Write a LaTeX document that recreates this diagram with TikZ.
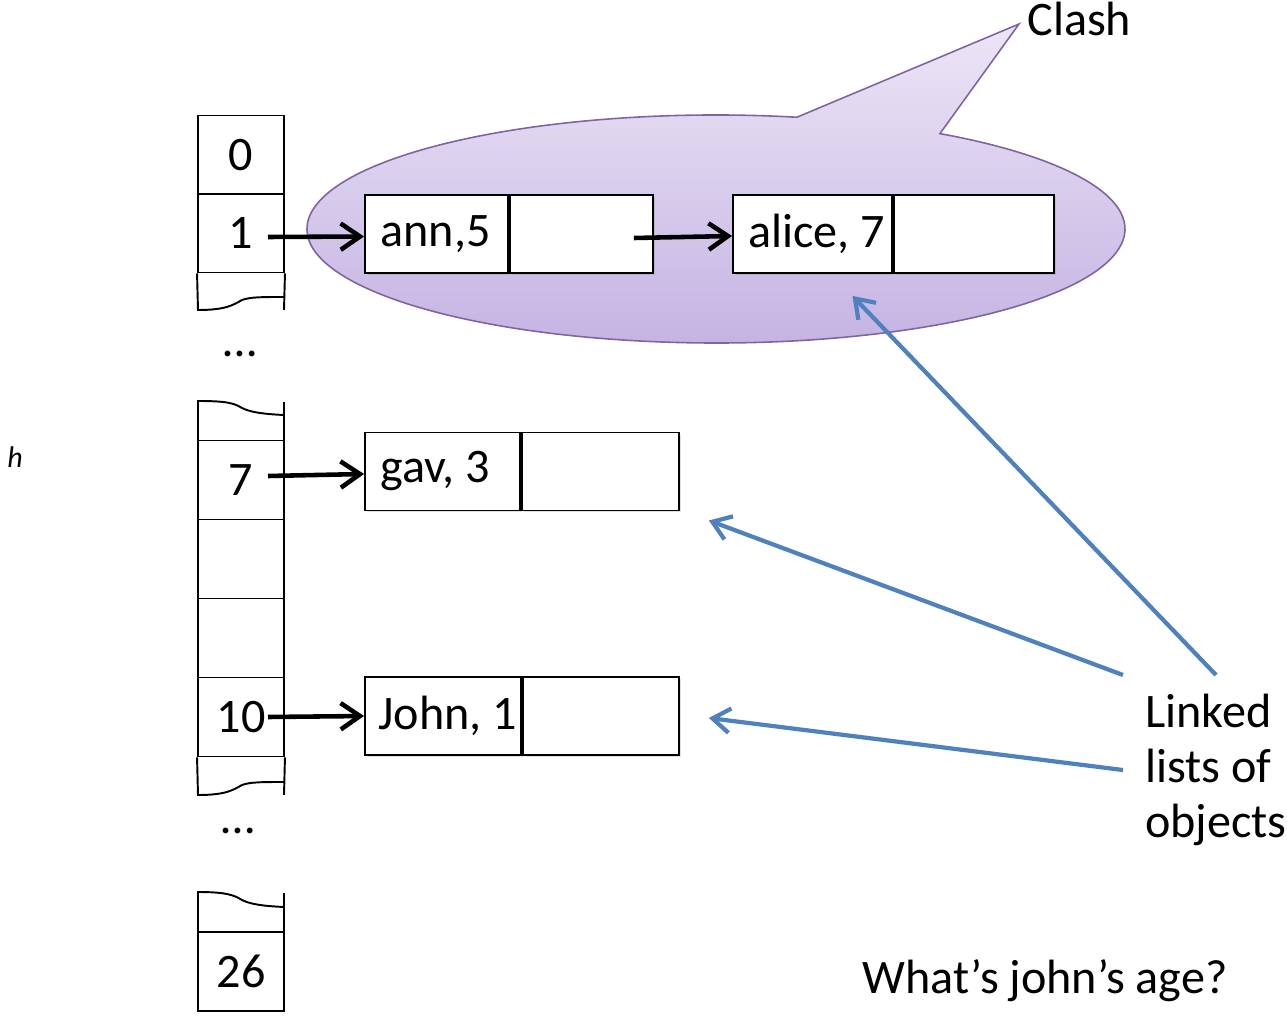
\documentclass[tikz,border=0pt]{standalone}
\usepackage{fontspec}
\setmainfont{Carlito}
\usetikzlibrary{arrows.meta,positioning,shadows}

\definecolor{bubbleline}{RGB}{128,100,162}
\definecolor{bubbletop}{RGB}{236,230,246}
\definecolor{bubblebot}{RGB}{196,178,226}
\definecolor{hintblue}{RGB}{79,129,189}

\tikzset{
  slot/.style={draw, line width=1.1pt, minimum width=1.72cm, minimum height=1.58cm, inner sep=0pt, font=\fontsize{27.4}{32}\selectfont},
  objbox/.style={draw, fill=white, line width=1.1pt, minimum height=1.56cm, minimum width=#1,
    drop shadow={shadow xshift=0.04cm, shadow yshift=-0.04cm, opacity=0.25}},
  keytext/.style={anchor=west, inner xsep=0.32cm, inner ysep=0pt, font=\fontsize{27.4}{32}\selectfont},
  link/.style={line width=2.6pt, -{Straight Barb[length=11pt, width=15pt]}},
  hint/.style={hintblue, line width=2.4pt, -{Straight Barb[length=10pt, width=14pt]}},
  bigtext/.style={inner sep=0pt, font=\fontsize{27.4}{32}\selectfont}
}

\begin{document}
\begin{tikzpicture}[x=0.02cm, y=-0.02cm]
\useasboundingbox (0,0) rectangle (1287,1016);

% clash bubble
\shade[top color=bubbletop, bottom color=bubblebot, draw=bubbleline, line width=0.9pt]
  (716,229) ++(-78.6:409 and 114) arc[start angle=-78.6, end angle=-416.8, x radius=409, y radius=114] -- (1019,24) -- cycle;
\node[bigtext, anchor=base west] (clash) at (1027,36) {Clash};

% hash table slots
\node[slot] (slot0) at (241,155) {0};
\node[slot] (slot1) at (241,233) {1};
\draw[line width=1.1pt] (slot1.south west) -- (198,310) .. controls (226,310) and (233,305) .. (242,300) .. controls (250,297) and (262,297) .. (284,297); % cut
\draw[line width=1.1pt] (slot1.south east) -- (284,310);
\node[bigtext, anchor=base] (dots1) at (240,357) {…};

\draw[line width=1.1pt] (284,415) .. controls (262,414) and (250,412) .. (242,408) .. controls (234,403) and (226,401) .. (198,401) -- (198,440.5); % cut
\draw[line width=1.1pt] (284,402) -- (284,440.5);
\node[slot] (slot7) at (241,480) {7};
\node[slot] (slot8) at (241,559) {};
\node[slot] (slot9) at (241,638) {};
\node[slot] (slot10) at (241,717) {10};
\draw[line width=1.1pt] (slot10.south west) -- (198,795) .. controls (226,795) and (233,790) .. (242,785) .. controls (250,782) and (262,782) .. (284,782); % cut
\draw[line width=1.1pt] (slot10.south east) -- (284,795);
\node[bigtext, anchor=base] (dots2) at (238,833) {…};

\draw[line width=1.1pt] (284,907) .. controls (262,906) and (250,904) .. (242,900) .. controls (234,895) and (226,892) .. (198,892) -- (198,932); % cut
\draw[line width=1.1pt] (284,893) -- (284,932);
\node[slot] (slot26) at (241,971.5) {26};

% linked objects
\node[objbox=2.86cm, label={[keytext]west:ann,5}] (ann) at (436.5,234) {};
\node[objbox=2.86cm, right=0pt of ann] (annnext) {};
\node[objbox=3.18cm, label={[keytext]west:alice, 7}] (alice) at (812.5,234) {};
\node[objbox=3.2cm, right=0pt of alice] (alicenext) {};
\node[objbox=3.1cm, label={[keytext]west:gav, 3}] (gav) at (442.5,471.5) {};
\node[objbox=3.14cm, right=0pt of gav] (gavnext) {};
\node[objbox=3.12cm, label={[keytext, inner xsep=0.28cm]west:John, 1}] (john) at (443,716) {};
\node[objbox=3.12cm, right=0pt of john] (johnnext) {};

\draw[link] ([xshift=0.54cm, yshift=-0.08cm]slot1.center) -- ([yshift=-0.05cm]ann.west);
\draw[link] ([xshift=1.05cm, yshift=-0.08cm]annnext.center) -- ([yshift=-0.04cm]alice.west);
\draw[link] ([xshift=0.54cm, yshift=0.08cm]slot7.center) -- ([yshift=-0.05cm]gav.west);
\draw[link] ([xshift=0.54cm]slot10.center) -- (john.west);

% notes
\node[bigtext, align=left, inner xsep=0.44cm, inner ysep=0.38cm, font=\fontsize{27.4}{31.2}\selectfont] (linked) at (1216,770) {Linked\\lists of\\objects};
\draw[hint] (linked.north) -- ([xshift=0.8cm, yshift=-0.44cm]alice.south);
\draw[hint] (linked.north west) -- ([xshift=0.58cm, yshift=-0.18cm]gavnext.south east);
\draw[hint] (linked.west) -- ([xshift=0.58cm, yshift=-0.04cm]johnnext.east);

\node[bigtext, anchor=base west] (question) at (862,993) {What’s john’s age?};
\node[inner sep=0pt, anchor=base west, font=\fontsize{17}{20}\selectfont\itshape] (hlabel) at (7,467) {h};

\end{tikzpicture}
\end{document}
